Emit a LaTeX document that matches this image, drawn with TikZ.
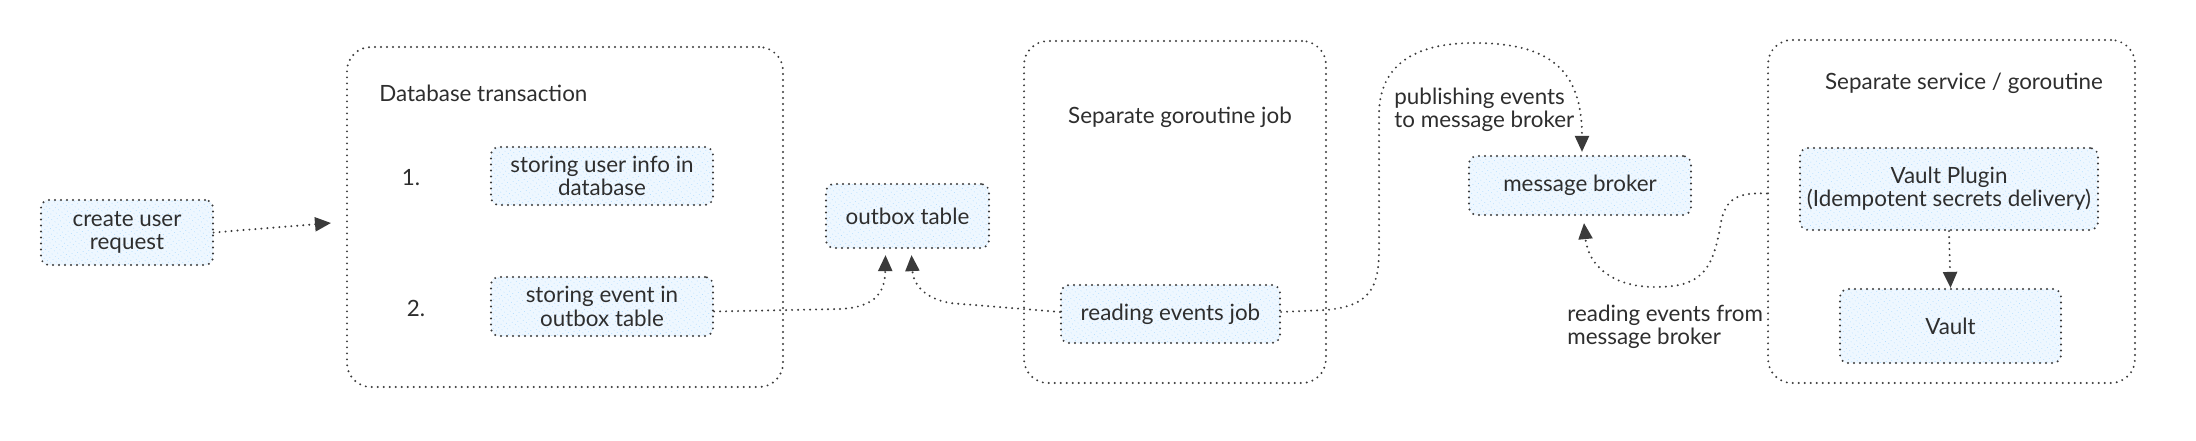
\documentclass[tikz,border=0pt]{standalone}
\usepackage{fontspec}
\setmainfont{Lato}
\usetikzlibrary{arrows.meta,patterns.meta}
\definecolor{ink}{HTML}{2E2E2E}
\definecolor{dotc}{HTML}{3A3A3A}
\definecolor{hatch}{HTML}{A5D8FF}
\definecolor{hatchbg}{HTML}{EEF7FF}
\begin{document}
\begin{tikzpicture}[x=0.5pt,y=-0.5pt,
  dotline/.style={draw=dotc,line width=1.1pt,line cap=round,dash pattern=on 0pt off 3pt},
  txt/.style={text=ink,font=\fontsize{11.2}{11.6}\selectfont},
  box/.style={dotline,txt,rounded corners=4pt,preaction={fill=hatchbg},pattern={Lines[angle=55,distance=2pt,line width=0.6pt]},pattern color=hatch,inner sep=0pt,align=center},
  group/.style={dotline,rounded corners=12pt,inner sep=0pt},
  lbl/.style={txt,inner sep=0pt},
  conn/.style={dotline,-{Triangle[length=8pt,width=7pt]}}
]
\useasboundingbox (0,0) rectangle (2196,440);
\fill[white] (0,0) rectangle (2196,440);

% containers
\node[group,minimum width=218pt,minimum height=170pt] (db) at (565,217) {};
\node[group,minimum width=151pt,minimum height=171pt] (gj) at (1175,212) {};
\node[group,minimum width=183.5pt,minimum height=171.5pt] (svc) at (1951.5,211.5) {};

% container titles
\node[lbl,anchor=west] (dbt) at (379,93) {Database transaction};
\node[lbl] (gjt) at (1180,117) {Separate goroutine job};
\node[lbl] (svct) at (1964,83) {Separate service / goroutine};
\node[lbl] (n1) at (411,178) {1.};
\node[lbl] (n2) at (416,308) {2.};

% boxes
\node[box,minimum width=86pt,minimum height=32.5pt] (create) at (127,232.5) {create user\\request};
\node[box,minimum width=111pt,minimum height=29pt] (su) at (602,176) {storing user info in\\database};
\node[box,minimum width=111pt,minimum height=29.5pt] (ev) at (602,306.5) {storing event in\\outbox table};
\node[box,minimum width=81.5pt,minimum height=32pt] (ob) at (907.5,216) {outbox table};
\node[box,minimum width=109.5pt,minimum height=29pt] (re) at (1170.5,314) {reading events job};
\node[box,minimum width=111pt,minimum height=29.5pt] (mb) at (1580,185.5) {message broker};
\node[box,minimum width=149pt,minimum height=41pt] (vp) at (1949,189) {Vault Plugin\\(Idempotent secrets delivery)};
\node[box,minimum width=110.5pt,minimum height=37pt] (va) at (1950.5,326) {Vault};

% edge labels
\node[lbl,anchor=west,align=left] (pub) at (1394,110) {publishing events\\to message broker};
\node[lbl,anchor=west,align=left] (rd) at (1567,327) {reading events from\\message broker};

% connectors
\coordinate (dbin) at (331,223);
\draw[conn] (create.east) -- (dbin);
\draw[conn] ([yshift=-2.5pt]ev.east) -- (840,309) .. controls (878,307) and (885,290) .. ([xshift=-11pt,yshift=-3pt]ob.south);
\draw[conn] ([yshift=1pt]re.west) -- (950,303) .. controls (922,298) and (913,282) .. ([xshift=2pt,yshift=-3pt]ob.south);
\draw[conn] ([yshift=1pt]re.east) -- (1326,310) .. controls (1368,306) and (1379,290) .. (1379,250) -- (1379,115) .. controls (1379,55) and (1430,43) .. (1474,43) .. controls (1550,43) and (1582,70) .. ([xshift=1pt,yshift=1.5pt]mb.north);
\draw[conn] ([yshift=9pt]svc.west) .. controls (1735,192) and (1724,200) .. (1720,228) .. controls (1712,272) and (1700,287) .. (1655,287) .. controls (1612,287) and (1588,265) .. ([xshift=2pt,yshift=-3.5pt]mb.south);
\draw[conn] (vp.south) -- (va.north);
\end{tikzpicture}
\end{document}
